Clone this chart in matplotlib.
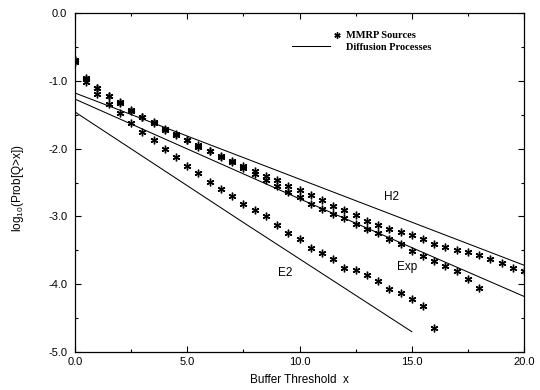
import numpy as np
import matplotlib
matplotlib.use("Agg")
import matplotlib.pyplot as plt
from matplotlib.lines import Line2D
from matplotlib.legend_handler import HandlerLine2D

# ---- data ----
x_h2 = [0.0, 0.5, 1.0, 1.5, 2.0, 2.5, 3.0, 3.5, 4.0, 4.5, 5.0, 5.5, 6.0, 6.5, 7.0,
        7.5, 8.0, 8.5, 9.0, 9.5, 10.0, 10.5, 11.0, 11.5, 12.0, 12.5, 13.0, 13.5,
        14.0, 14.5, 15.0, 15.5, 16.0, 16.5, 17.0, 17.5, 18.0, 18.5, 19.0, 19.5, 20.0]
y_h2 = [-0.70, -0.96, -1.10, -1.22, -1.32, -1.43, -1.53, -1.61, -1.71, -1.79, -1.87,
        -1.95, -2.03, -2.11, -2.18, -2.26, -2.33, -2.40, -2.47, -2.55, -2.61, -2.68,
        -2.76, -2.84, -2.91, -2.98, -3.07, -3.13, -3.18, -3.23, -3.28, -3.34, -3.40,
        -3.45, -3.49, -3.53, -3.57, -3.63, -3.69, -3.76, -3.80]

x_exp = [0.0, 0.5, 1.0, 1.5, 2.0, 2.5, 3.0, 3.5, 4.0, 4.5, 5.0, 5.5, 6.0, 6.5, 7.0,
         7.5, 8.0, 8.5, 9.0, 9.5, 10.0, 10.5, 11.0, 11.5, 12.0, 12.5, 13.0, 13.5,
         14.0, 14.5, 15.0, 15.5, 16.0, 16.5, 17.0, 17.5, 18.0]
y_exp = [-0.70, -0.97, -1.11, -1.23, -1.33, -1.44, -1.54, -1.62, -1.72, -1.80, -1.88,
         -1.97, -2.04, -2.12, -2.20, -2.29, -2.37, -2.47, -2.55, -2.64, -2.72, -2.81,
         -2.89, -2.96, -3.03, -3.11, -3.18, -3.25, -3.34, -3.40, -3.51, -3.58, -3.66,
         -3.73, -3.81, -3.92, -4.05]

x_e2 = [0.0, 0.5, 1.0, 1.5, 2.0, 2.5, 3.0, 3.5, 4.0, 4.5, 5.0, 5.5, 6.0, 6.5, 7.0,
        7.5, 8.0, 8.5, 9.0, 9.5, 10.0, 10.5, 11.0, 11.5, 12.0, 12.5, 13.0, 13.5,
        14.0, 14.5, 15.0, 15.5, 16.0]
y_e2 = [-0.72, -1.02, -1.19, -1.34, -1.48, -1.62, -1.75, -1.88, -2.01, -2.13, -2.25,
        -2.36, -2.49, -2.60, -2.70, -2.81, -2.91, -3.00, -3.13, -3.24, -3.34, -3.46,
        -3.54, -3.63, -3.76, -3.79, -3.87, -3.95, -4.07, -4.13, -4.22, -4.32, -4.65]

# diffusion approximations (straight lines)
xl_h2 = [0.0, 10.0, 20.0]
yl_h2 = [-1.18, -2.45, -3.72]
xl_exp = [0.0, 10.0, 20.0]
yl_exp = [-1.27, -2.74, -4.18]
xl_e2 = [0.0, 7.5, 15.0]
yl_e2 = [-1.46, -3.09, -4.70]

curve_labels = ["H2", "Exp", "E2"]
label_pos = [(14.1, -2.71), (14.8, -3.74), (9.35, -3.83)]

x_ticks = [0, 5, 10, 15, 20]
x_ticklabels = ["0.0", "5.0", "10.0", "15.0", "20.0"]
y_ticks = [0, -1, -2, -3, -4, -5]
y_ticklabels = ["0.0", "-1.0", "-2.0", "-3.0", "-4.0", "-5.0"]

# ---- plotting ----
plt.rcParams['font.family'] = ['Liberation Sans', 'DejaVu Sans']
plt.rcParams['mathtext.default'] = 'regular'

fig = plt.figure(figsize=(5.4, 3.9), dpi=100)
ax = fig.add_axes([75/540, 1-352/390, 449/540, 339/390])

ast = (6, 2, 0)
mk = dict(linestyle='none', marker=ast, markersize=5.5, markeredgewidth=1.0,
          color='black')
ax.plot(x_h2, y_h2, **mk)
ax.plot(x_exp, y_exp, **mk)
ax.plot(x_e2, y_e2, **mk)

ln = dict(color='black', linewidth=0.75)
ax.plot(xl_h2, yl_h2, **ln)
ax.plot(xl_exp, yl_exp, **ln)
ax.plot(xl_e2, yl_e2, **ln)

for lab, (tx, ty) in zip(curve_labels, label_pos):
    ax.text(tx, ty, lab, fontsize=8.5, ha='center', va='center')

ax.set_xlim(0, 20)
ax.set_ylim(-5, 0)
ax.set_xticks(x_ticks)
ax.set_xticklabels(x_ticklabels)
ax.set_yticks(y_ticks)
ax.set_yticklabels(y_ticklabels)
ax.set_xticks(np.arange(0, 20.1, 2.5), minor=True)
ax.set_yticks(np.arange(-5, 0.01, 0.5), minor=True)
ax.tick_params(which='both', direction='in', top=True, right=True,
               labelsize=8, width=0.8)
ax.tick_params(which='major', length=4)
ax.tick_params(which='minor', length=2.5)
ax.tick_params(axis='y', which='major', pad=5.5)
ax.tick_params(axis='x', which='major', pad=3.5)
for s in ax.spines.values():
    s.set_linewidth(0.9)

ax.set_xlabel("Buffer Threshold  x", fontsize=8.5, labelpad=5)
ax.set_ylabel("log$_{10}$(Prob[Q>x])", fontsize=8.5)
ax.yaxis.set_label_coords(-0.11, 0.484)


class MarkerRight(HandlerLine2D):
    """Legend handler that draws the single marker to the right of the handle."""
    def get_xdata(self, legend, xdescent, ydescent, width, height, fontsize):
        pos = -xdescent + width * 1.18
        return np.array([pos, pos]), np.array([pos])


h1 = Line2D([], [], linestyle='none', marker=ast, markersize=4.5,
            markeredgewidth=1.0, color='black')
h2 = Line2D([], [], color='black', linewidth=0.75)
leg = ax.legend([h1, h2], ["MMRP Sources", "Diffusion Processes"],
                loc='upper left', bbox_to_anchor=(0.483, 0.947),
                frameon=False, borderpad=0, borderaxespad=0,
                handlelength=3.7, handletextpad=1.45, labelspacing=0.2,
                numpoints=1,
                handler_map={h1: MarkerRight(numpoints=1)},
                prop=dict(family=['Liberation Serif', 'DejaVu Serif'],
                          weight='bold', size=7.5))

fig.savefig("out.png", dpi=100)
